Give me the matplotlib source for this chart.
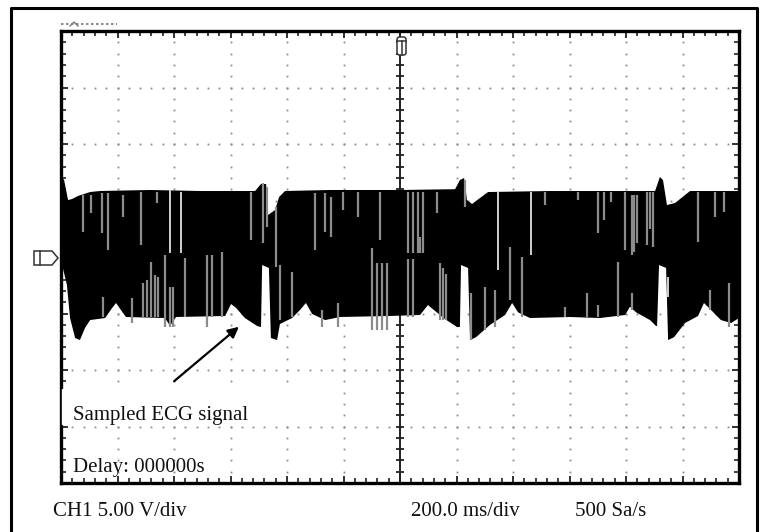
import numpy as np
import matplotlib.pyplot as plt
from matplotlib.patches import Polygon, FancyBboxPatch

# time in ms, amplitude in V (5 V/div, 200 ms/div, 12 x 8 divisions)
up_t = [4, 11, 25, 39, 60, 103, 138, 315, 492, 687, 708, 726, 733, 758, 772, 793,
        952, 1200, 1395, 1412, 1427, 1437, 1455, 1483, 1512, 1731, 2103, 2120, 2131,
        2145, 2174, 2209, 2227, 2400]
up_v = [6.99, 6.81, 5.04, 5.13, 5.4, 5.75, 5.84, 5.93, 5.84, 5.84, 6.46, 6.46, 3.72,
        4.16, 5.31, 5.84, 5.93, 5.93, 6.0, 6.81, 6.99, 5.04, 4.69, 5.22, 5.75, 5.84,
        5.84, 7.08, 6.81, 4.6, 4.78, 5.49, 5.84, 5.84]

lo_t = [4, 21, 32, 50, 67, 85, 103, 156, 181, 195, 212, 230, 368, 386, 407, 581, 602,
        620, 651, 694, 708, 712, 736, 743, 765, 775, 818, 846, 867, 889, 935, 988, 1165,
        1271, 1299, 1320, 1359, 1402, 1412, 1416, 1441, 1448, 1469, 1519, 1572, 1597,
        1618, 1660, 1802, 1908, 1997, 2014, 2036, 2085, 2106, 2110, 2117, 2142, 2149,
        2170, 2209, 2255, 2276, 2301, 2336, 2372, 2400]
lo_v = [-0.71, -2.48, -5.4, -7.17, -7.35, -6.28, -5.58, -5.4, -4.51, -4.07, -4.69,
        -5.31, -5.4, -6.1, -5.31, -5.22, -4.16, -4.51, -5.4, -6.1, -6.2, -0.71, -0.97,
        -7.17, -7.35, -5.93, -5.4, -4.69, -4.07, -5.04, -5.58, -5.31, -5.22, -5.13,
        -4.25, -4.69, -5.49, -6.2, -6.2, -0.71, -0.97, -7.35, -7.1, -6.0, -5.13, -4.07,
        -4.9, -5.4, -5.31, -5.4, -5.13, -4.4, -4.9, -5.58, -6.1, -6.1, -0.71, -0.97,
        -7.35, -7.1, -5.84, -5.22, -4.07, -4.69, -5.58, -5.84, -5.4]

# grey traces drawn over the dense band
gray_t = [78, 106, 145, 166, 219, 283, 340, 673, 715, 729, 761, 899, 935, 956, 998,
          1051, 1129, 1228, 1246, 1264, 1282, 1331, 1430, 1713, 1830, 1901, 1922, 1947,
          1997, 2021, 2030, 2040, 2074, 2085, 2096, 2255, 2315, 2347,
          149, 251, 290, 304, 319, 333, 343, 368, 386, 397, 439, 517, 535, 570, 775,
          818, 924, 981, 1101, 1119, 1136, 1154, 1228, 1246, 1271, 1342, 1352, 1364,
          1451, 1501, 1536, 1589, 1632, 1784, 1862, 1901, 1972, 2021, 2297, 2365]
gray_hi = [5.49, 5.49, 5.66, 5.66, 5.49, 5.75, 5.75, 5.75, 6.55, 6.2, 4.43, 5.66, 5.66,
           5.31, 5.75, 5.75, 5.75, 5.75, 5.75, 5.75, 5.75, 5.75, 6.81, 5.75, 5.75, 5.75,
           5.75, 5.75, 5.75, 5.49, 5.49, 5.49, 5.75, 5.75, 5.75, 5.75, 5.75, 5.75,
           -3.54, -3.63, -2.3, -2.04, -0.44, -1.59, -1.77, 0.18, -2.66, -2.66, -0.09,
           0.18, 0.18, 0.44, -0.71, -1.33, -4.69, -4.07, 0.8, -0.5, -0.5, -0.5, -0.2,
           -0.2, 1.77, -0.53, -1.0, -1.5, -3.19, -2.66, -2.92, 0.89, 0.0, -4.43, -3.19,
           -4.25, -0.44, -3.19, -2.92, -2.3]
gray_lo = [2.21, 3.89, 2.12, 0.62, 3.54, 1.06, 4.78, 1.5, 1.24, 2.66, -0.89, 0.62, 2.21,
           1.77, 4.16, 3.54, 1.5, 0.35, 0.35, 0.35, 0.35, 3.89, 4.43, 4.6, 5.04, 2.12,
           3.27, 4.87, 0.62, 0.18, 0.4, 1.2, 1.06, 2.5, 0.9, 1.33, 3.54, 3.98,
           -5.31, -5.84, -5.31, -5.31, -5.31, -5.31, -5.31, -6.2, -6.2, -6.2, -5.31,
           -6.2, -5.31, -5.31, -5.58, -5.31, -6.2, -6.2, -6.46, -6.46, -6.46, -6.46,
           -5.31, -5.31, 0.35, -5.58, -5.58, -5.58, -7.35, -6.46, -6.2, -3.81, -5.31,
           -5.31, -5.31, -5.31, -5.31, -4.69, -4.69, -6.2]

light_t = [386, 425, 1547, 1664, 2149]
light_hi = [5.93, 5.75, 5.75, 5.75, -1.77]
light_lo = [0.35, 0.35, -1.15, 0.18, -3.54]

note = "Sampled ECG signal"
delay = "Delay: 000000s"
ch1 = "CH1 5.00 V/div"
tbase = "200.0 ms/div"
srate = "500 Sa/s"

W, H = 763, 532
fig = plt.figure(figsize=(W / 100, H / 100), dpi=100)
fig.patch.set_facecolor('white')

# screen area (pixel box 61..739 x 31..483)
ax = fig.add_axes([61 / W, 1 - 483 / H, 678 / W, 452 / H])
ax.set_xlim(0, 2400)
ax.set_ylim(-20, 20)

# dotted graticule
for k in range(1, 12):
    if k == 6:
        continue
    ys = np.arange(-20, 20.01, 1.0)
    ax.plot(np.full(len(ys), 200 * k), ys, ls='none', marker='s', ms=1.3,
            color='#8a8a8a', mec='none', zorder=1)
for k in range(-3, 4):
    if k == 0:
        continue
    xs = np.arange(0, 2400.1, 40)
    ax.plot(xs, np.full(len(xs), 5 * k), ls='none', marker='s', ms=1.3,
            color='#8a8a8a', mec='none', zorder=1)

# centre axes with ticks
ax.axvline(1200, color='#222222', lw=1.4, zorder=2)
ax.axhline(0, color='#222222', lw=1.4, zorder=2)
ys = np.arange(-20, 20.01, 1.0)
ax.plot(np.full(len(ys), 1200), ys, ls='none', marker='_', ms=6, mew=1.3,
        color='#222222', zorder=2)
xs = np.arange(0, 2400.1, 40)
ax.plot(xs, np.zeros(len(xs)), ls='none', marker='|', ms=6, mew=1.3,
        color='#222222', zorder=2)

# white box behind the annotation text
ax.add_patch(plt.Rectangle((2, -14.8), 880, 3.1, color='white', zorder=3))

# signal band
ax.fill(np.r_[up_t, lo_t[::-1]], np.r_[up_v, lo_v[::-1]], color='black', lw=0, zorder=4)
ax.vlines(gray_t, gray_lo, gray_hi, color='#8c8c8c', lw=1.6, zorder=5)
ax.vlines(light_t, light_lo, light_hi, color='#d0d0d0', lw=1.4, zorder=5)

ax.set_xticks(np.arange(0, 2401, 200))
ax.set_xticks(np.arange(0, 2401, 40), minor=True)
ax.set_yticks(np.arange(-20, 21, 5))
ax.set_yticks(np.arange(-20, 21, 1), minor=True)
ax.tick_params(which='both', direction='in', top=True, right=True,
               labelbottom=False, labelleft=False, color='#222222')
ax.tick_params(which='major', length=5, width=1.3)
ax.tick_params(which='minor', length=3.5, width=1.2)
for s in ax.spines.values():
    s.set_linewidth(2.4)

# overlay in pixel coordinates for the scope furniture
ov = fig.add_axes([0, 0, 1, 1], zorder=10)
ov.set_xlim(0, W)
ov.set_ylim(H, 0)
ov.axis('off')
ov.patch.set_alpha(0)

ov.plot([11, 11, 757, 757], [532, 8, 8, 532], color='black', lw=2.2)
ov.plot([61, 117], [24, 24], color='#777777', lw=1.2, ls=(0, (1.5, 1.5)))
ov.plot([70, 74, 78], [26, 22, 26], color='#777777', lw=1)

ov.add_patch(FancyBboxPatch((397, 37), 9, 18, boxstyle='round,pad=0,rounding_size=2.5',
                            fc='white', ec='#333333', lw=1.1))
ov.plot([397, 406], [41, 41], color='#333333', lw=1.1)
ov.plot([401.5, 401.5], [41, 55], color='#333333', lw=1.1)

ov.add_patch(Polygon([(34, 251), (52, 251), (58, 258), (52, 265), (34, 265)],
                     closed=True, fc='white', ec='#333333', lw=1.1))
ov.plot([40, 40], [251, 265], color='#333333', lw=1.1)

ov.annotate('', xy=(241, 325), xytext=(172, 383),
            arrowprops=dict(arrowstyle='-|>', lw=1.6, color='black', mutation_scale=16))

font = dict(family='Liberation Serif', fontsize=15, color='#111111', va='baseline')
ov.text(73, 420, note, **font)
ov.text(73, 472, delay, **font)
ov.text(53, 516, ch1, **font)
ov.text(411, 516, tbase, **font)
ov.text(575, 516, srate, **font)

fig.savefig('out.png', dpi=100, facecolor='white')
